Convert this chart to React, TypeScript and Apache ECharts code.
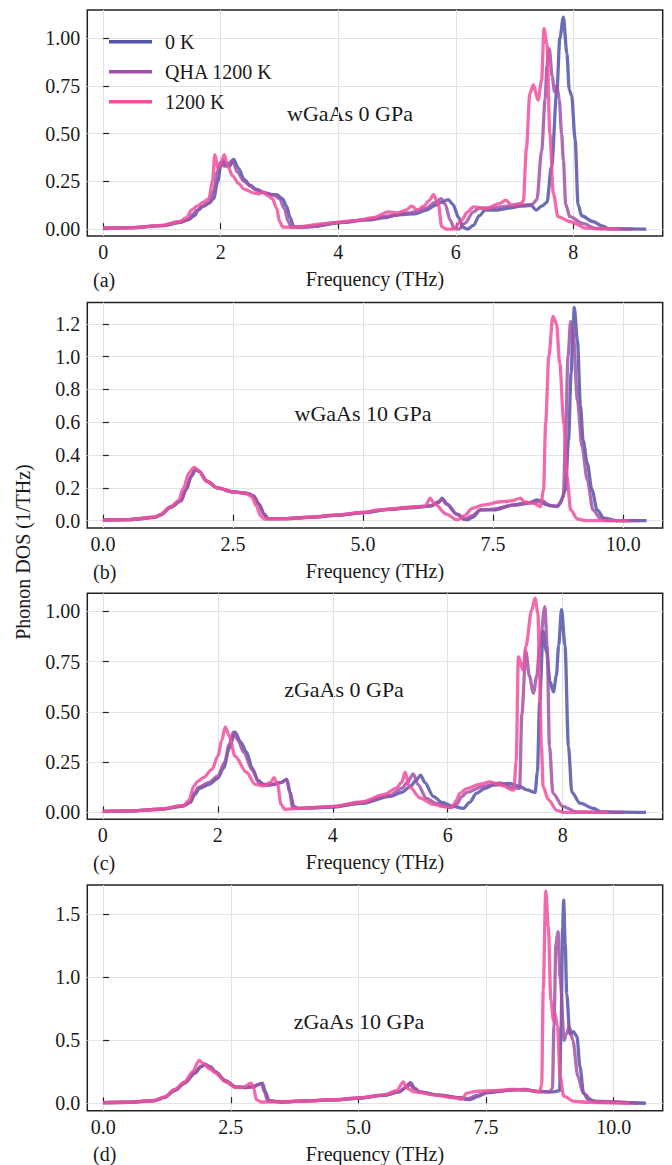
import React, { useEffect, useRef } from 'react';
import * as echarts from 'echarts';

const SERIES_NAMES = ['0 K', 'QHA 1200 K', '1200 K'];
const COLORS = ['#5454a8', '#a052a8', '#f0509e'];
const PANEL_TITLES = ['wGaAs 0 GPa', 'wGaAs 10 GPa', 'zGaAs 0 GPa', 'zGaAs 10 GPa'];
const PANEL_LETTERS = ['(a)', '(b)', '(c)', '(d)'];
const X_LABEL = 'Frequency (THz)';
const Y_LABEL = 'Phonon DOS (1/THz)';

// tick values
const xTicksA = [0, 2, 4, 6, 8];
const xTicksB = [0, 2.5, 5, 7.5, 10];
const xTicksC = [0, 2, 4, 6, 8];
const xTicksD = [0, 2.5, 5, 7.5, 10];
const yTicksA = [0, 0.25, 0.5, 0.75, 1.0];
const yTicksB = [0, 0.2, 0.4, 0.6, 0.8, 1.0, 1.2];
const yTicksC = [0, 0.25, 0.5, 0.75, 1.0];
const yTicksD = [0, 0.5, 1.0, 1.5];

// axis ranges
const xRangeA = [-0.27, 9.52];
const xRangeB = [-0.3, 10.76];
const xRangeC = [-0.27, 9.74];
const xRangeD = [-0.31, 10.96];
const yRangeA = [-0.036, 1.148];
const yRangeB = [-0.045, 1.33];
const yRangeC = [-0.034, 1.09];
const yRangeD = [-0.059, 1.733];

// (a) wGaAs 0 GPa
const a0K = [[0,0.005],[0.5,0.008],[1.0,0.018],[1.3,0.035],[1.45,0.05],[1.55,0.07],[1.62,0.1],[1.7,0.12],[1.8,0.135],[1.88,0.16],[1.95,0.25],[2.0,0.33],[2.04,0.36],[2.1,0.33],[2.15,0.33],[2.22,0.365],[2.3,0.32],[2.4,0.26],[2.5,0.23],[2.6,0.21],[2.75,0.19],[2.85,0.18],[2.95,0.18],[3.05,0.16],[3.12,0.12],[3.18,0.06],[3.24,0.015],[3.3,0.01],[3.6,0.015],[4.0,0.033],[4.5,0.048],[4.8,0.06],[5.0,0.075],[5.3,0.08],[5.5,0.1],[5.65,0.125],[5.75,0.14],[5.87,0.155],[5.95,0.13],[6.05,0.06],[6.12,0.01],[6.2,0.0],[6.3,0.02],[6.4,0.07],[6.5,0.1],[6.7,0.1],[6.9,0.11],[7.1,0.12],[7.28,0.125],[7.37,0.1],[7.46,0.12],[7.55,0.14],[7.63,0.33],[7.72,0.73],[7.77,1.0],[7.83,1.11],[7.89,0.92],[7.93,0.73],[7.97,0.7],[8.03,0.47],[8.08,0.13],[8.14,0.07],[8.33,0.04],[8.5,0.015],[8.6,0.002],[9.24,0.0]];
const aQHA = [[0,0.005],[0.5,0.008],[1.0,0.018],[1.3,0.035],[1.45,0.05],[1.53,0.08],[1.6,0.1],[1.7,0.12],[1.8,0.14],[1.88,0.2],[1.94,0.3],[1.99,0.35],[2.06,0.33],[2.12,0.34],[2.2,0.36],[2.28,0.3],[2.4,0.25],[2.5,0.225],[2.6,0.205],[2.75,0.19],[2.9,0.18],[3.0,0.16],[3.08,0.11],[3.15,0.04],[3.2,0.01],[3.5,0.012],[4.0,0.035],[4.5,0.05],[4.9,0.07],[5.2,0.085],[5.5,0.11],[5.65,0.14],[5.75,0.16],[5.82,0.13],[5.9,0.05],[5.97,0.005],[6.05,0.0],[6.15,0.03],[6.3,0.09],[6.4,0.11],[6.6,0.11],[6.9,0.12],[7.1,0.125],[7.3,0.13],[7.38,0.155],[7.46,0.41],[7.52,0.68],[7.55,0.86],[7.59,0.945],[7.64,0.8],[7.68,0.72],[7.72,0.75],[7.76,0.68],[7.8,0.5],[7.83,0.36],[7.87,0.13],[7.94,0.065],[8.16,0.03],[8.39,0.002],[9.02,0.0]];
const a1200 = [[0,0.005],[0.5,0.008],[1.0,0.02],[1.3,0.04],[1.42,0.06],[1.5,0.1],[1.6,0.12],[1.7,0.14],[1.8,0.16],[1.86,0.25],[1.9,0.39],[1.95,0.32],[2.0,0.34],[2.06,0.39],[2.12,0.33],[2.2,0.28],[2.3,0.24],[2.4,0.21],[2.55,0.19],[2.65,0.185],[2.72,0.195],[2.8,0.175],[2.88,0.16],[2.95,0.11],[3.0,0.04],[3.06,0.01],[3.3,0.012],[3.8,0.03],[4.3,0.045],[4.6,0.06],[4.85,0.09],[5.0,0.085],[5.15,0.1],[5.25,0.12],[5.35,0.1],[5.45,0.12],[5.55,0.15],[5.62,0.18],[5.7,0.135],[5.76,0.013],[5.84,0.0],[5.96,0.0],[6.1,0.047],[6.2,0.09],[6.3,0.117],[6.52,0.108],[6.75,0.135],[6.85,0.152],[6.95,0.126],[7.12,0.135],[7.15,0.15],[7.2,0.42],[7.26,0.71],[7.32,0.755],[7.4,0.676],[7.46,0.78],[7.5,1.05],[7.55,0.97],[7.6,0.5],[7.66,0.186],[7.74,0.065],[7.94,0.04],[8.22,0.005],[8.8,0.0]];

// (b) wGaAs 10 GPa
const b0K = [[0,0.003],[0.5,0.006],[1.0,0.02],[1.1,0.033],[1.3,0.08],[1.5,0.12],[1.6,0.19],[1.7,0.27],[1.78,0.31],[1.85,0.3],[2.0,0.24],[2.2,0.2],[2.5,0.175],[2.8,0.165],[2.9,0.15],[3.0,0.1],[3.1,0.04],[3.18,0.012],[3.5,0.012],[4.0,0.02],[4.5,0.032],[5.0,0.048],[5.5,0.068],[6.0,0.08],[6.3,0.09],[6.45,0.11],[6.52,0.137],[6.62,0.1],[6.8,0.04],[7.0,0.004],[7.1,0.02],[7.26,0.065],[7.51,0.065],[7.9,0.096],[8.2,0.11],[8.35,0.126],[8.54,0.096],[8.73,0.085],[8.79,0.106],[8.89,0.187],[8.95,0.49],[9.0,0.9],[9.04,1.2],[9.06,1.3],[9.12,1.1],[9.18,0.7],[9.23,0.49],[9.31,0.35],[9.4,0.187],[9.5,0.065],[9.63,0.015],[9.88,0.0],[10.45,0.0]];
const bQHA = [[0,0.003],[0.5,0.006],[1.0,0.02],[1.1,0.034],[1.3,0.082],[1.5,0.122],[1.6,0.19],[1.7,0.275],[1.78,0.315],[1.85,0.3],[2.0,0.24],[2.2,0.2],[2.5,0.175],[2.8,0.165],[2.9,0.15],[3.0,0.1],[3.1,0.035],[3.17,0.012],[3.5,0.012],[4.0,0.021],[4.5,0.033],[5.0,0.05],[5.5,0.07],[6.0,0.082],[6.3,0.09],[6.45,0.115],[6.52,0.13],[6.6,0.1],[6.8,0.04],[6.95,0.006],[7.1,0.03],[7.25,0.065],[7.5,0.07],[7.9,0.095],[8.3,0.11],[8.45,0.12],[8.6,0.09],[8.75,0.09],[8.85,0.146],[8.89,0.49],[8.94,1.0],[8.99,1.214],[9.04,1.143],[9.12,0.736],[9.21,0.45],[9.31,0.25],[9.42,0.065],[9.56,0.015],[9.7,0.0],[10.3,0.0]];
const b1200 = [[0,0.003],[0.5,0.006],[1.0,0.022],[1.1,0.036],[1.3,0.085],[1.45,0.12],[1.55,0.2],[1.65,0.29],[1.75,0.325],[1.82,0.31],[2.0,0.24],[2.2,0.2],[2.5,0.175],[2.75,0.165],[2.85,0.15],[2.95,0.09],[3.03,0.03],[3.1,0.01],[3.5,0.012],[4.0,0.022],[4.5,0.035],[5.0,0.05],[5.3,0.065],[5.5,0.07],[5.8,0.08],[6.0,0.085],[6.2,0.09],[6.29,0.137],[6.38,0.1],[6.6,0.04],[6.81,0.004],[6.95,0.03],[7.1,0.075],[7.32,0.096],[7.64,0.115],[7.85,0.12],[8.03,0.137],[8.09,0.115],[8.28,0.106],[8.41,0.085],[8.47,0.187],[8.51,0.594],[8.57,1.0],[8.65,1.245],[8.72,1.2],[8.78,0.96],[8.86,0.594],[8.92,0.27],[8.99,0.065],[9.12,0.01],[9.3,0.0],[10.1,0.0]];

// (c) zGaAs 0 GPa
const c0K = [[0,0.005],[0.5,0.008],[1.0,0.016],[1.4,0.032],[1.52,0.05],[1.6,0.09],[1.68,0.12],[1.85,0.14],[2.0,0.17],[2.1,0.22],[2.2,0.32],[2.3,0.4],[2.4,0.35],[2.5,0.3],[2.6,0.22],[2.7,0.16],[2.8,0.14],[2.95,0.14],[3.1,0.15],[3.2,0.165],[3.26,0.1],[3.32,0.03],[3.4,0.02],[4.0,0.027],[4.5,0.045],[5.0,0.08],[5.2,0.1],[5.35,0.13],[5.45,0.16],[5.53,0.186],[5.6,0.15],[5.75,0.08],[5.9,0.05],[6.1,0.03],[6.27,0.02],[6.38,0.05],[6.5,0.095],[6.65,0.12],[6.79,0.136],[7.08,0.144],[7.25,0.13],[7.38,0.112],[7.52,0.1],[7.56,0.2],[7.6,0.55],[7.66,0.9],[7.72,0.8],[7.78,0.65],[7.84,0.6],[7.89,0.68],[7.93,0.83],[7.98,1.01],[8.04,0.83],[8.1,0.33],[8.16,0.1],[8.3,0.046],[8.54,0.02],[8.66,0.003],[9.45,0.0]];
const cQHA = [[0,0.005],[0.5,0.008],[1.0,0.016],[1.4,0.033],[1.52,0.05],[1.6,0.1],[1.66,0.125],[1.85,0.15],[2.0,0.18],[2.12,0.25],[2.2,0.34],[2.27,0.4],[2.35,0.36],[2.45,0.3],[2.6,0.21],[2.72,0.145],[2.85,0.135],[3.0,0.14],[3.12,0.15],[3.2,0.165],[3.25,0.1],[3.3,0.025],[3.4,0.02],[4.0,0.028],[4.5,0.05],[5.0,0.085],[5.2,0.12],[5.3,0.15],[5.4,0.192],[5.48,0.14],[5.63,0.07],[5.8,0.045],[6.04,0.025],[6.15,0.04],[6.25,0.08],[6.33,0.1],[6.62,0.13],[6.91,0.147],[7.14,0.122],[7.25,0.12],[7.29,0.49],[7.36,0.8],[7.42,0.68],[7.49,0.593],[7.55,0.68],[7.6,0.826],[7.69,1.024],[7.73,0.83],[7.77,0.33],[7.83,0.096],[8.0,0.03],[8.24,0.003],[9.07,0.0]];
const c1200 = [[0,0.005],[0.5,0.008],[1.0,0.017],[1.4,0.035],[1.5,0.06],[1.58,0.13],[1.65,0.155],[1.75,0.173],[1.9,0.214],[2.0,0.28],[2.07,0.36],[2.13,0.425],[2.2,0.38],[2.3,0.28],[2.5,0.2],[2.65,0.14],[2.8,0.132],[2.92,0.15],[2.98,0.173],[3.04,0.14],[3.1,0.04],[3.16,0.016],[3.4,0.02],[4.0,0.03],[4.5,0.052],[4.9,0.09],[5.1,0.12],[5.2,0.15],[5.26,0.2],[5.33,0.13],[5.52,0.072],[5.75,0.04],[5.92,0.029],[6.08,0.025],[6.15,0.06],[6.21,0.095],[6.33,0.119],[6.55,0.14],[6.74,0.152],[6.92,0.136],[7.15,0.111],[7.19,0.25],[7.23,0.775],[7.31,0.709],[7.36,0.826],[7.46,1.007],[7.52,1.066],[7.57,0.99],[7.6,0.66],[7.63,0.33],[7.66,0.13],[7.75,0.064],[7.9,0.01],[8.02,0.0],[8.8,0.0]];

// (d) zGaAs 10 GPa
const d0K = [[0,0.005],[0.5,0.008],[1.0,0.02],[1.2,0.045],[1.4,0.1],[1.6,0.16],[1.8,0.24],[1.92,0.29],[2.0,0.31],[2.1,0.29],[2.2,0.25],[2.4,0.18],[2.6,0.13],[2.8,0.125],[2.95,0.13],[3.05,0.15],[3.12,0.16],[3.18,0.09],[3.25,0.02],[3.5,0.01],[4.0,0.02],[4.5,0.026],[5.0,0.04],[5.5,0.062],[5.8,0.09],[5.95,0.13],[6.02,0.164],[6.1,0.12],[6.2,0.09],[6.59,0.065],[6.98,0.045],[7.18,0.03],[7.35,0.055],[7.52,0.085],[8.04,0.105],[8.25,0.11],[8.5,0.095],[8.8,0.09],[8.94,0.1],[8.97,0.61],[9.0,1.4],[9.02,1.613],[9.05,1.27],[9.08,0.87],[9.14,0.55],[9.21,0.568],[9.28,0.53],[9.34,0.29],[9.41,0.08],[9.5,0.03],[9.7,0.01],[10.63,0.0]];
const dQHA = [[0,0.005],[0.5,0.008],[1.0,0.021],[1.2,0.047],[1.4,0.105],[1.6,0.165],[1.8,0.25],[1.92,0.295],[1.98,0.305],[2.1,0.285],[2.2,0.25],[2.4,0.175],[2.6,0.128],[2.8,0.125],[2.95,0.135],[3.05,0.15],[3.1,0.155],[3.16,0.09],[3.22,0.02],[3.5,0.01],[4.0,0.02],[4.5,0.027],[5.0,0.041],[5.5,0.064],[5.8,0.092],[5.93,0.13],[6.0,0.16],[6.08,0.12],[6.2,0.09],[6.55,0.065],[6.95,0.045],[7.12,0.032],[7.3,0.06],[7.52,0.088],[8.04,0.108],[8.3,0.105],[8.55,0.09],[8.75,0.09],[8.8,0.12],[8.83,0.61],[8.87,1.27],[8.91,1.362],[8.95,1.0],[9.03,0.5],[9.07,0.55],[9.13,0.608],[9.2,0.5],[9.3,0.214],[9.4,0.08],[9.6,0.016],[10.48,0.0]];
const d1200 = [[0,0.005],[0.5,0.008],[1.0,0.022],[1.2,0.05],[1.4,0.11],[1.6,0.17],[1.75,0.25],[1.88,0.34],[1.95,0.32],[2.1,0.27],[2.2,0.24],[2.4,0.17],[2.6,0.125],[2.75,0.13],[2.9,0.16],[2.95,0.12],[3.0,0.03],[3.1,0.01],[3.5,0.012],[4.0,0.02],[4.5,0.028],[5.0,0.042],[5.5,0.066],[5.75,0.1],[5.88,0.17],[5.95,0.12],[6.1,0.09],[6.5,0.065],[6.85,0.045],[7.02,0.032],[7.12,0.08],[7.3,0.095],[7.6,0.1],[8.04,0.11],[8.3,0.105],[8.55,0.09],[8.59,0.15],[8.62,0.9],[8.67,1.687],[8.72,1.4],[8.77,0.82],[8.82,0.66],[8.85,0.714],[8.9,0.61],[8.95,0.214],[9.02,0.056],[9.22,0.016],[9.48,0.008],[10.3,0.0]];

const PANEL_DATA = [
  [a0K, aQHA, a1200],
  [b0K, bQHA, b1200],
  [c0K, cQHA, c1200],
  [d0K, dQHA, d1200],
];
const X_TICKS = [xTicksA, xTicksB, xTicksC, xTicksD];
const Y_TICKS = [yTicksA, yTicksB, yTicksC, yTicksD];
const X_RANGES = [xRangeA, xRangeB, xRangeC, xRangeD];
const Y_RANGES = [yRangeA, yRangeB, yRangeC, yRangeD];
const X_DEC = [0, 1, 0, 1];
const Y_DEC = [2, 1, 2, 1];

// layout (pixels)
const W = 672;
const H = 1165;
const GRID_LEFT = 87.3;
const GRID_WIDTH = 575.4;
const GRID_TOPS = [10, 302.5, 593.3, 885];
const GRID_HEIGHTS = [226, 225.5, 226, 225.7];
const TITLE_POS = [[350, 113], [363, 413], [344, 689], [359, 1021]];
const FONT = 'Liberation Serif, Times New Roman, serif';
const TXT = '#1a1a1a';

export default function App() {
  const ref = useRef<HTMLDivElement>(null);
  useEffect(() => {
    if (!ref.current) return;
    const chart = echarts.init(ref.current, null, { renderer: 'svg' });
    const grids: any[] = [];
    const xAxes: any[] = [];
    const yAxes: any[] = [];
    const series: any[] = [];
    const graphics: any[] = [];
    for (let p = 0; p < 4; p++) {
      grids.push({
        left: GRID_LEFT,
        top: GRID_TOPS[p],
        width: GRID_WIDTH,
        height: GRID_HEIGHTS[p],
        show: true,
        borderColor: '#222',
        borderWidth: 1.5,
        backgroundColor: 'transparent',
        containLabel: false,
      });
      xAxes.push({
        type: 'value',
        gridIndex: p,
        min: X_RANGES[p][0],
        max: X_RANGES[p][1],
        name: X_LABEL,
        nameLocation: 'middle',
        nameGap: 33,
        nameTextStyle: { fontFamily: FONT, fontSize: 20, color: TXT },
        axisLine: { show: false },
        axisTick: {
          show: true,
          inside: true,
          length: 6,
          customValues: X_TICKS[p],
          lineStyle: { color: '#222', width: 1.2 },
        },
        axisLabel: {
          customValues: X_TICKS[p],
          formatter: (v: number) => v.toFixed(X_DEC[p]),
          fontFamily: FONT,
          fontSize: 20,
          color: TXT,
          margin: 6,
        },
        splitLine: { show: true, lineStyle: { color: '#e3e3e3', width: 1 } },
      });
      yAxes.push({
        type: 'value',
        gridIndex: p,
        min: Y_RANGES[p][0],
        max: Y_RANGES[p][1],
        axisLine: { show: false },
        axisTick: {
          show: true,
          inside: true,
          length: 6,
          customValues: Y_TICKS[p],
          lineStyle: { color: '#222', width: 1.2 },
        },
        axisLabel: {
          customValues: Y_TICKS[p],
          formatter: (v: number) => v.toFixed(Y_DEC[p]),
          fontFamily: FONT,
          fontSize: 20,
          color: TXT,
          margin: 7,
        },
        splitLine: { show: true, lineStyle: { color: '#e3e3e3', width: 1 } },
      });
      for (let s = 0; s < 3; s++) {
        series.push({
          type: 'line',
          name: SERIES_NAMES[s],
          xAxisIndex: p,
          yAxisIndex: p,
          data: PANEL_DATA[p][s],
          showSymbol: false,
          symbol: 'none',
          smooth: 0.3,
          smoothMonotone: 'x',
          clip: true,
          lineStyle: { color: COLORS[s], width: 3.3, opacity: 0.85 },
          itemStyle: { color: COLORS[s] },
          z: 2 + s,
        });
      }
      graphics.push({
        type: 'text',
        x: TITLE_POS[p][0],
        y: TITLE_POS[p][1],
        style: {
          text: PANEL_TITLES[p],
          font: `22px ${FONT}`,
          fill: TXT,
          textAlign: 'center',
          textVerticalAlign: 'middle',
        },
      });
      graphics.push({
        type: 'text',
        x: 93,
        y: GRID_TOPS[p] + GRID_HEIGHTS[p] + 43.5,
        style: {
          text: PANEL_LETTERS[p],
          font: `20px ${FONT}`,
          fill: TXT,
          textAlign: 'left',
          textVerticalAlign: 'middle',
        },
      });
    }
    graphics.push({
      type: 'text',
      x: 23,
      y: 552,
      rotation: Math.PI / 2,
      style: {
        text: Y_LABEL,
        font: `20px ${FONT}`,
        fill: TXT,
        textAlign: 'center',
        textVerticalAlign: 'middle',
      },
    });

    chart.setOption({
      animation: false,
      backgroundColor: '#ffffff',
      grid: grids,
      xAxis: xAxes,
      yAxis: yAxes,
      series,
      graphic: graphics,
      legend: {
        show: true,
        orient: 'vertical',
        left: 104,
        top: 26.7,
        itemWidth: 43,
        itemHeight: 3.5,
        itemGap: 10,
        icon: 'rect',
        data: SERIES_NAMES,
        textStyle: {
          fontFamily: FONT,
          fontSize: 20,
          lineHeight: 20,
          color: TXT,
          padding: [0, 0, 0, 8],
        },
        selectedMode: false,
      },
    });
    return () => chart.dispose();
  }, []);
  return (
    <div
      ref={ref}
      style={{ position: 'absolute', left: 0, top: 0, width: W, height: H }}
    />
  );
}
